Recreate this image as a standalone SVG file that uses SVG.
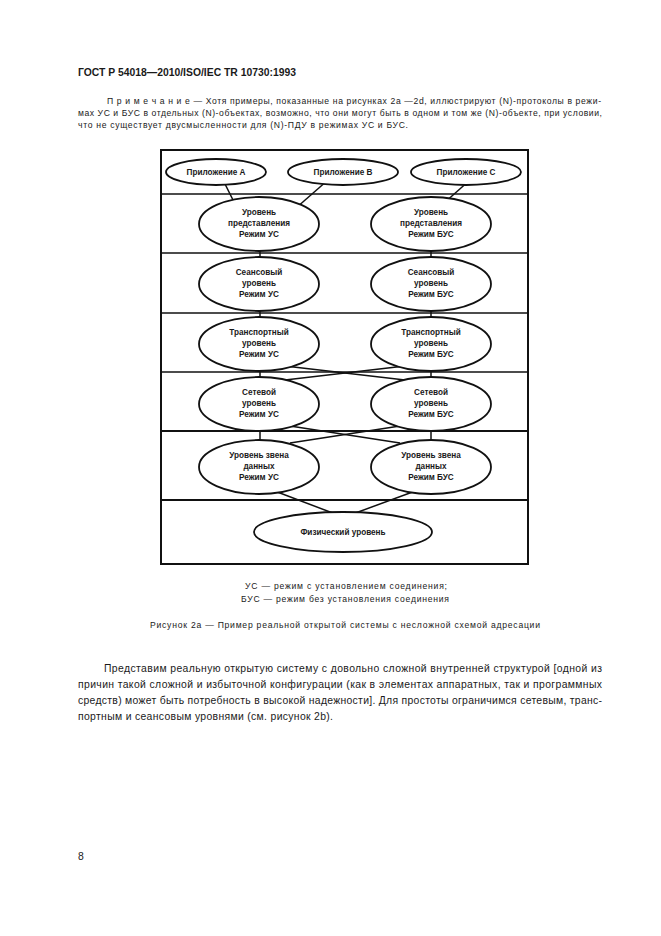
<svg xmlns="http://www.w3.org/2000/svg" width="661" height="936" viewBox="0 0 661 936">
<style>
text{font-family:"Liberation Sans",Arial,sans-serif;fill:#1a1a1a}
.hd{font-size:10.5px;font-weight:bold}
.nt{font-size:8.6px}
.cap{font-size:8.6px}
.bd{font-size:10.4px}
.nl{font-size:8.2px;font-weight:bold;text-anchor:middle}
.el{fill:#fff;stroke:#111;stroke-width:1.8}
.cn{stroke:#111;stroke-width:1.5;fill:none}
.fr{fill:none;stroke:#111;stroke-width:2}
.hl{stroke:#111;stroke-width:1.4}
.hl2{stroke:#111;stroke-width:2.2}
</style>
<rect width="661" height="936" fill="#fff"/>
<text class="hd" x="78" y="76" textLength="218" lengthAdjust="spacingAndGlyphs">ГОСТ Р 54018—2010/ISO/IEC TR 10730:1993</text>
<text class="nt" x="107" y="104" textLength="494" lengthAdjust="spacing">П р и м е ч а н и е — Хотя примеры, показанные на рисунках 2а —2d, иллюстрируют (N)-протоколы в режи-</text>
<text class="nt" x="78" y="116" textLength="524" lengthAdjust="spacing">мах УС и БУС в отдельных (N)-объектах, возможно, что они могут быть в одном и том же (N)-объекте, при условии,</text>
<text class="nt" x="78" y="128" textLength="330" lengthAdjust="spacing">что не существует двусмысленности для (N)-ПДУ в режимах УС и БУС.</text>

<g id="frame">
<rect class="fr" x="161" y="150" width="367" height="414"/>
<line class="hl" x1="161" y1="194" x2="528" y2="194"/>
<line class="hl" x1="161" y1="253" x2="528" y2="253"/>
<line class="hl" x1="161" y1="313" x2="528" y2="313"/>
<line class="hl" x1="161" y1="372" x2="528" y2="372"/>
<line class="hl2" x1="161" y1="431" x2="528" y2="431"/>
<line class="hl2" x1="161" y1="500" x2="528" y2="500"/>
</g>

<g id="connectors">
<line class="cn" x1="222" y1="178" x2="235" y2="204"/>
<line class="cn" x1="328" y1="180" x2="296" y2="208"/>
<line class="cn" x1="470" y1="180" x2="444" y2="203"/>
<line class="cn" x1="260" y1="224" x2="260" y2="467"/>
<line class="cn" x1="431" y1="224" x2="431" y2="467"/>
<line class="cn" x1="285" y1="366" x2="405" y2="380"/>
<line class="cn" x1="405" y1="366" x2="285" y2="380"/>
<line class="cn" x1="290" y1="426" x2="400" y2="443"/>
<line class="cn" x1="400" y1="426" x2="290" y2="443"/>
<line class="cn" x1="272" y1="490" x2="338" y2="515"/>
<line class="cn" x1="418" y1="490" x2="350" y2="515"/>
</g>

<g id="appA"><ellipse class="el" cx="216" cy="172" rx="50" ry="13"/><text class="nl" x="216" y="175">Приложение А</text></g>
<g id="appB"><ellipse class="el" cx="343" cy="172" rx="55" ry="13"/><text class="nl" x="343" y="175">Приложение В</text></g>
<g id="appC"><ellipse class="el" cx="466" cy="172" rx="55" ry="13"/><text class="nl" x="466" y="175">Приложение С</text></g>

<g id="pres-us"><ellipse class="el" cx="259" cy="224" rx="60" ry="27"/><text class="nl" x="259" y="215">Уровень</text><text class="nl" x="259" y="226">представления</text><text class="nl" x="259" y="237">Режим УС</text></g>
<g id="pres-bus"><ellipse class="el" cx="431" cy="224" rx="60" ry="27"/><text class="nl" x="431" y="215">Уровень</text><text class="nl" x="431" y="226">представления</text><text class="nl" x="431" y="237">Режим БУС</text></g>

<g id="sess-us"><ellipse class="el" cx="259" cy="284" rx="60" ry="27"/><text class="nl" x="259" y="275">Сеансовый</text><text class="nl" x="259" y="286">уровень</text><text class="nl" x="259" y="297">Режим УС</text></g>
<g id="sess-bus"><ellipse class="el" cx="431" cy="284" rx="60" ry="27"/><text class="nl" x="431" y="275">Сеансовый</text><text class="nl" x="431" y="286">уровень</text><text class="nl" x="431" y="297">Режим БУС</text></g>

<g id="trans-us"><ellipse class="el" cx="259" cy="344" rx="60" ry="27"/><text class="nl" x="259" y="335">Транспортный</text><text class="nl" x="259" y="346">уровень</text><text class="nl" x="259" y="357">Режим УС</text></g>
<g id="trans-bus"><ellipse class="el" cx="431" cy="344" rx="60" ry="27"/><text class="nl" x="431" y="335">Транспортный</text><text class="nl" x="431" y="346">уровень</text><text class="nl" x="431" y="357">Режим БУС</text></g>

<g id="net-us"><ellipse class="el" cx="259" cy="404" rx="60" ry="27"/><text class="nl" x="259" y="395">Сетевой</text><text class="nl" x="259" y="406">уровень</text><text class="nl" x="259" y="417">Режим УС</text></g>
<g id="net-bus"><ellipse class="el" cx="431" cy="404" rx="60" ry="27"/><text class="nl" x="431" y="395">Сетевой</text><text class="nl" x="431" y="406">уровень</text><text class="nl" x="431" y="417">Режим БУС</text></g>

<g id="link-us"><ellipse class="el" cx="259" cy="467" rx="60" ry="27"/><text class="nl" x="259" y="458">Уровень звена</text><text class="nl" x="259" y="469">данных</text><text class="nl" x="259" y="480">Режим УС</text></g>
<g id="link-bus"><ellipse class="el" cx="431" cy="467" rx="60" ry="27"/><text class="nl" x="431" y="458">Уровень звена</text><text class="nl" x="431" y="469">данных</text><text class="nl" x="431" y="480">Режим БУС</text></g>

<g id="phys"><ellipse class="el" cx="343" cy="532" rx="89" ry="20"/><text class="nl" x="343" y="535">Физический уровень</text></g>

<text class="cap" x="245" y="589" textLength="202" lengthAdjust="spacing">УС — режим с установлением соединения;</text>
<text class="cap" x="241" y="602" textLength="208" lengthAdjust="spacing">БУС — режим без установления соединения</text>
<text class="cap" x="150" y="628" textLength="390" lengthAdjust="spacing">Рисунок  2а — Пример реальной открытой системы с несложной схемой адресации</text>

<text class="bd" x="104" y="672" textLength="498" lengthAdjust="spacing">Представим реальную открытую систему с довольно сложной внутренней структурой [одной из</text>
<text class="bd" x="78" y="688" textLength="524" lengthAdjust="spacing">причин такой сложной и избыточной конфигурации (как в элементах аппаратных, так и программных</text>
<text class="bd" x="78" y="704" textLength="524" lengthAdjust="spacing">средств) может быть потребность в высокой надежности]. Для простоты ограничимся сетевым, транс-</text>
<text class="bd" x="78" y="720" textLength="255" lengthAdjust="spacing">портным и сеансовым уровнями (см. рисунок 2b).</text>

<text class="bd" x="78" y="860">8</text>
</svg>
